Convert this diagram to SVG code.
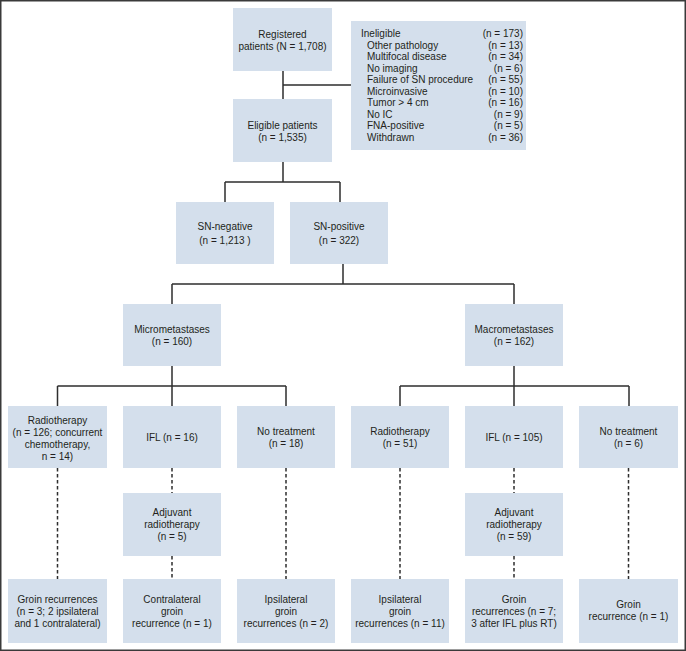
<svg xmlns="http://www.w3.org/2000/svg" width="686" height="651" viewBox="0 0 686 651">
<style>
.box{fill:#d4dfec;stroke:none}
text{font-family:"Liberation Sans",Arial,sans-serif;font-size:10px;fill:#231f20}
.c{text-anchor:middle}
.e{text-anchor:end}
.ln{fill:none;stroke:#2e2e2e;stroke-width:1.5}
.dl{fill:none;stroke:#2e2e2e;stroke-width:1.5;stroke-dasharray:3.5 2.5}
</style>
<rect x="0.75" y="0.75" width="684.5" height="649.5" fill="#ffffff" stroke="#3a3a3a" stroke-width="1.5"/>
<g id="connectors">
<path class="ln" d="M283 71V99M283 85H351M283 162V182M225 182H340M225 182V202M340 182V202M343 264V284M172 284H514M172 284V304M514 284V304M172 366V406M57.5 386H286M57.5 386V406M286 386V406M514 366V406M400 386H629M400 386V406M629 386V406"/>
<path class="dl" d="M57.5 468V579M172 468V493M172 556V579M286 468V579M400 468V579M514 468V493M514 556V579M628.5 468V579"/>
</g>
<g id="registered"><rect class="box" x="233" y="8" width="99" height="63"/>
<text class="c" x="282.5" y="37.5">Registered</text><text class="c" x="282.5" y="49.5">patients (N = 1,708)</text></g>
<g id="ineligible"><rect class="box" x="351" y="21" width="175" height="129"/>
<text x="361" y="37">Ineligible</text><text class="e" x="523" y="37">(n = 173)</text>
<text x="367" y="48.5">Other pathology</text><text class="e" x="523" y="48.5">(n = 13)</text>
<text x="367" y="60">Multifocal disease</text><text class="e" x="523" y="60">(n = 34)</text>
<text x="367" y="71.5">No imaging</text><text class="e" x="523" y="71.5">(n = 6)</text>
<text x="367" y="83">Failure of SN procedure</text><text class="e" x="523" y="83">(n = 55)</text>
<text x="367" y="94.5">Microinvasive</text><text class="e" x="523" y="94.5">(n = 10)</text>
<text x="367" y="106">Tumor &gt; 4 cm</text><text class="e" x="523" y="106">(n = 16)</text>
<text x="367" y="117.5">No IC</text><text class="e" x="523" y="117.5">(n = 9)</text>
<text x="367" y="129">FNA-positive</text><text class="e" x="523" y="129">(n = 5)</text>
<text x="367" y="140.5">Withdrawn</text><text class="e" x="523" y="140.5">(n = 36)</text></g>
<g id="eligible"><rect class="box" x="233" y="99" width="99" height="63"/>
<text class="c" x="282.5" y="129">Eligible patients</text><text class="c" x="282.5" y="141">(n = 1,535)</text></g>
<g id="sn-negative"><rect class="box" x="176" y="202" width="98" height="62"/>
<text class="c" x="225" y="230">SN-negative</text><text class="c" x="225" y="244">(n = 1,213 )</text></g>
<g id="sn-positive"><rect class="box" x="290" y="202" width="98" height="62"/>
<text class="c" x="339" y="230">SN-positive</text><text class="c" x="339" y="244">(n = 322)</text></g>
<g id="micro"><rect class="box" x="123" y="304" width="98" height="62"/>
<text class="c" x="172" y="332.5">Micrometastases</text><text class="c" x="172" y="344.5">(n = 160)</text></g>
<g id="macro"><rect class="box" x="465" y="304" width="98" height="62"/>
<text class="c" x="514" y="332.5">Macrometastases</text><text class="c" x="514" y="344.5">(n = 162)</text></g>
<g id="mi-rt"><rect class="box" x="8" y="406" width="99" height="62"/>
<text class="c" x="57.5" y="423.5">Radiotherapy</text><text class="c" x="57.5" y="435.5">(n = 126; concurrent</text><text class="c" x="57.5" y="447.5">chemotherapy,</text><text class="c" x="57.5" y="459.5">n = 14)</text></g>
<g id="mi-ifl"><rect class="box" x="123" y="406" width="98" height="62"/>
<text class="c" x="172" y="440.5">IFL (n = 16)</text></g>
<g id="mi-none"><rect class="box" x="237" y="406" width="98" height="62"/>
<text class="c" x="286" y="435">No treatment</text><text class="c" x="286" y="447">(n = 18)</text></g>
<g id="ma-rt"><rect class="box" x="351" y="406" width="98" height="62"/>
<text class="c" x="400" y="435">Radiotherapy</text><text class="c" x="400" y="447">(n = 51)</text></g>
<g id="ma-ifl"><rect class="box" x="465" y="406" width="98" height="62"/>
<text class="c" x="514" y="440.5">IFL (n = 105)</text></g>
<g id="ma-none"><rect class="box" x="579" y="406" width="99" height="62"/>
<text class="c" x="628.5" y="435">No treatment</text><text class="c" x="628.5" y="447">(n = 6)</text></g>
<g id="mi-adj"><rect class="box" x="123" y="493" width="98" height="63"/>
<text class="c" x="172" y="515.5">Adjuvant</text><text class="c" x="172" y="527.5">radiotherapy</text><text class="c" x="172" y="539.5">(n = 5)</text></g>
<g id="ma-adj"><rect class="box" x="465" y="493" width="98" height="63"/>
<text class="c" x="514" y="515.5">Adjuvant</text><text class="c" x="514" y="527.5">radiotherapy</text><text class="c" x="514" y="539.5">(n = 59)</text></g>
<g id="out1"><rect class="box" x="8" y="579" width="99" height="64"/>
<text class="c" x="57.5" y="602.5">Groin recurrences</text><text class="c" x="57.5" y="614.5">(n = 3; 2 ipsilateral</text><text class="c" x="57.5" y="626.5">and 1 contralateral)</text></g>
<g id="out2"><rect class="box" x="123" y="579" width="98" height="64"/>
<text class="c" x="172" y="602.5">Contralateral</text><text class="c" x="172" y="614.5">groin</text><text class="c" x="172" y="626.5">recurrence (n = 1)</text></g>
<g id="out3"><rect class="box" x="237" y="579" width="98" height="64"/>
<text class="c" x="286" y="602.5">Ipsilateral</text><text class="c" x="286" y="614.5">groin</text><text class="c" x="286" y="626.5">recurrences (n = 2)</text></g>
<g id="out4"><rect class="box" x="351" y="579" width="98" height="64"/>
<text class="c" x="400" y="602.5">Ipsilateral</text><text class="c" x="400" y="614.5">groin</text><text class="c" x="400" y="626.5">recurrences (n = 11)</text></g>
<g id="out5"><rect class="box" x="465" y="579" width="98" height="64"/>
<text class="c" x="514" y="602.5">Groin</text><text class="c" x="514" y="614.5">recurrences (n = 7;</text><text class="c" x="514" y="626.5">3 after IFL plus RT)</text></g>
<g id="out6"><rect class="box" x="579" y="579" width="99" height="64"/>
<text class="c" x="628.5" y="608">Groin</text><text class="c" x="628.5" y="620">recurrence (n = 1)</text></g>
</svg>
